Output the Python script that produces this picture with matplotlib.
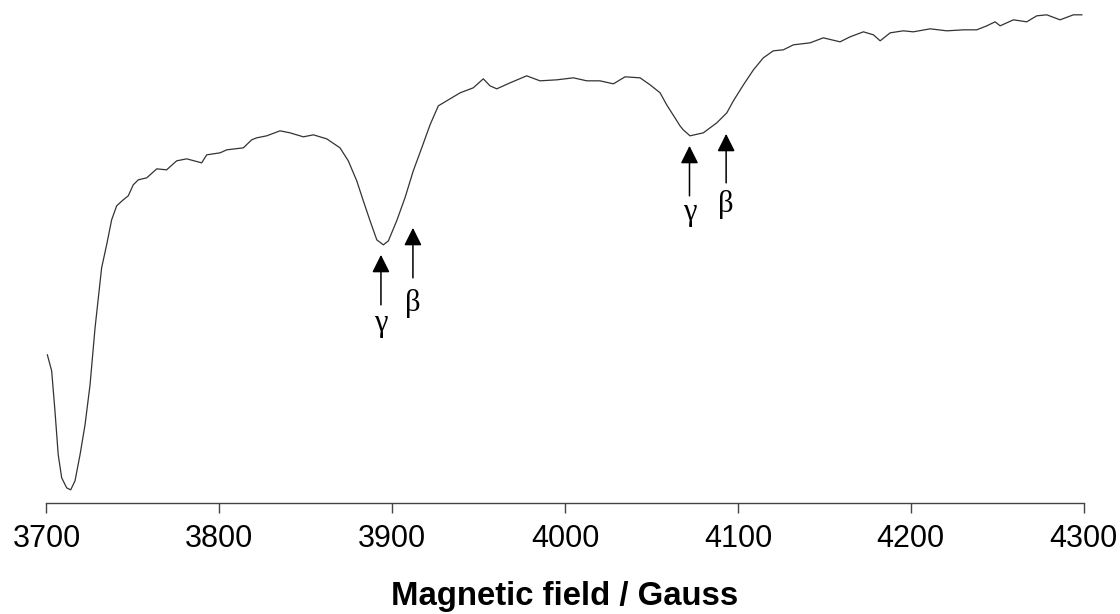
import matplotlib
matplotlib.use('Agg')
import matplotlib.pyplot as plt

# EPR spectrum, values (signal in arbitrary units)
field = [3700.5, 3703.0, 3704.9, 3706.8, 3708.8, 3711.7, 3714.0, 3716.5, 3719.4, 3722.3,
         3725.2, 3728.1, 3731.9, 3734.8, 3737.7, 3740.6, 3744.4, 3747.3, 3750.2, 3753.1,
         3758.0, 3763.8, 3769.5, 3775.3, 3781.1, 3789.8, 3792.7, 3800.4, 3804.3, 3813.9,
         3818.7, 3821.6, 3827.4, 3835.1, 3840.9, 3848.6, 3854.4, 3862.1, 3869.8, 3874.6,
         3879.5, 3883.3, 3887.2, 3891.1, 3894.9, 3897.8, 3902.6, 3907.4, 3912.2, 3917.1,
         3921.9, 3926.7, 3932.5, 3939.3, 3946.9, 3952.7, 3956.6, 3960.5, 3968.2, 3977.8,
         3985.5, 3995.2, 4004.8, 4012.6, 4020.2, 4028.0, 4034.7, 4043.4, 4049.2, 4055.0,
         4058.8, 4063.6, 4066.5, 4068.4, 4072.3, 4080.0, 4087.8, 4093.6, 4097.4, 4103.2,
         4109.0, 4114.7, 4120.5, 4126.3, 4132.1, 4141.8, 4149.4, 4159.1, 4164.9, 4172.6,
         4178.4, 4182.3, 4188.1, 4195.7, 4201.5, 4211.2, 4220.9, 4230.5, 4238.2, 4244.0,
         4248.8, 4251.7, 4259.4, 4267.1, 4272.9, 4278.7, 4286.4, 4294.1, 4299.0]
signal = [148, 132, 92, 48, 25, 15, 13, 22, 48, 78,
          118, 175, 235, 258, 283, 297, 303, 307, 318, 323,
          325, 334, 333, 342, 344, 340, 348, 350, 353, 355,
          363, 365, 367, 372, 370, 366, 368, 364, 355, 342,
          322, 302, 282, 263, 258, 262, 282, 305, 332, 355,
          378, 397, 403, 410, 415, 424, 417, 414, 420, 427,
          422, 423, 425, 422, 422, 419, 426, 425, 418, 410,
          398, 385, 377, 373, 367, 370, 380, 390, 402, 418,
          433, 445, 452, 453, 458, 460, 465, 461, 466, 471,
          468, 462, 470, 472, 471, 474, 472, 473, 473, 477,
          481, 477, 483, 481, 487, 488, 483, 488, 488]

# peak markers: label, field position, arrow tail, arrow tip, label height
marks = ['γ', 'β', 'γ', 'β']
mark_field = [3893.5, 3912.0, 4072.0, 4093.2]
arrow_tail = [198, 225, 307, 320]
arrow_tip = [248, 275, 357, 369]
label_y = [179, 199, 290, 298]

ticks = [3700, 3800, 3900, 4000, 4100, 4200, 4300]

fig = plt.figure(figsize=(11.2, 6.14), dpi=100)
ax = fig.add_axes([0.0415, 0.181, 0.926, 0.803])

ax.plot(field, signal, color='#333333', lw=0.9)

for m, x, t0, t1, ly in zip(marks, mark_field, arrow_tail, arrow_tip, label_y):
    ax.annotate('', xy=(x, t1), xytext=(x, t0),
                arrowprops=dict(arrowstyle='-|>,head_length=0.6,head_width=0.3',
                                color='black', lw=1.1, mutation_scale=18,
                                shrinkA=0, shrinkB=0))
    ax.text(x, ly, m, ha='center', va='center', fontsize=22,
            family='Liberation Serif')

ax.set_xlim(3700, 4300)
ax.set_ylim(0, 493)
ax.set_xticks(ticks)
ax.set_xticklabels([str(t) for t in ticks], family='Liberation Sans', fontsize=22)
ax.set_yticks([])
for s in ['top', 'right', 'left']:
    ax.spines[s].set_visible(False)
ax.spines['bottom'].set_color('#444444')
ax.spines['bottom'].set_linewidth(1.0)
ax.tick_params(axis='x', direction='out', length=7.5, width=1.0, color='#444444', pad=8)
ax.set_xlabel('Magnetic field / Gauss', family='Liberation Sans', fontsize=23.7,
              fontweight='bold', labelpad=19)

fig.savefig('out.png', dpi=100)
